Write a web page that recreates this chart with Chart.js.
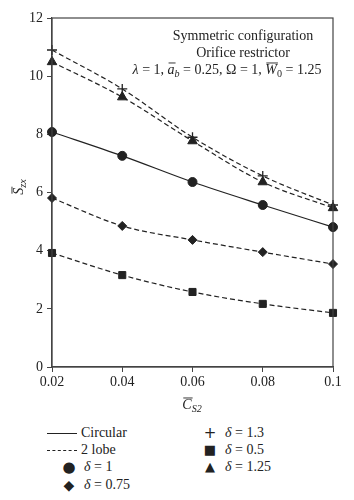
<!DOCTYPE html>
<html>
<head>
<meta charset="utf-8">
<script src="https://cdn.jsdelivr.net/npm/chart.js@4.4.1/dist/chart.umd.min.js"></script>
<style>
  body { margin: 0; background: #fff; }
  #wrap { position: relative; width: 354px; height: 500px; }
  #chart { position: absolute; left: 0; top: 0; }
  .leg { position: absolute; font-family: "Liberation Serif", serif; font-size: 14px; line-height: 16px; height: 16px; color: #222; white-space: nowrap; }
  .leg i { font-style: italic; }
  .ln { display: inline-block; width: 30px; vertical-align: middle; margin-right: 4px; border-top: 1.3px solid #222; }
  .ln.d { border-top: 1.3px dashed #222; }
  .sym { display: inline-block; width: 14px; height: 16px; line-height: 16px; vertical-align: top; text-align: center; margin-right: 8px; font-family: "DejaVu Sans", sans-serif; }
</style>
</head>
<body>
<div id="wrap">
  <canvas id="chart" width="354" height="420"></canvas>
  <div class="leg" style="left:47px; top:425px;"><span class="ln"></span>Circular</div>
  <div class="leg" style="left:47px; top:442px;"><span class="ln d"></span>2 lobe</div>
  <div class="leg" style="left:62px; top:459px;"><span class="sym" style="font-size:15px">●</span><i>δ</i> = 1</div>
  <div class="leg" style="left:62px; top:477px;"><span class="sym" style="font-size:14px">◆</span><i>δ</i> = 0.75</div>
  <div class="leg" style="left:203px; top:425px;"><span class="sym" style="font-size:15px">+</span><i>δ</i> = 1.3</div>
  <div class="leg" style="left:203px; top:442px;"><span class="sym" style="font-size:13px">■</span><i>δ</i> = 0.5</div>
  <div class="leg" style="left:203px; top:459px;"><span class="sym" style="font-size:13px">▲</span><i>δ</i> = 1.25</div>
</div>
<script>
const cs2 = [0.02, 0.04, 0.06, 0.08, 0.1];
const xTicks = [0.02, 0.04, 0.06, 0.08, 0.1];
const yTicks = [0, 2, 4, 6, 8, 10, 12];

const circularD1 = [8.08, 7.26, 6.36, 5.57, 4.81];
const lobeD13 = [10.9, 9.56, 7.9, 6.57, 5.57];
const lobeD125 = [10.49, 9.28, 7.77, 6.36, 5.47];
const lobeD075 = [5.81, 4.85, 4.37, 3.95, 3.54];
const lobeD05 = [3.92, 3.16, 2.58, 2.17, 1.86];

const ink = '#222';
const serif = '"Liberation Serif", "DejaVu Serif", serif';

function pts(ys) {
  return cs2.map((x, i) => ({ x: x, y: ys[i] }));
}

function series(ys, dashed, style, radius) {
  return {
    data: pts(ys),
    borderColor: ink,
    backgroundColor: ink,
    borderWidth: 1.2,
    borderDash: dashed ? [5, 3] : [],
    pointStyle: style,
    pointRadius: radius,
    pointBorderWidth: style === 'cross' ? 1.3 : 1,
    pointBorderColor: ink,
    pointBackgroundColor: ink,
    cubicInterpolationMode: 'monotone',
    fill: false,
    clip: false
  };
}

// draws a string built from runs (italic, subscript, overline)
function drawRich(ctx, runs, cx, cy, size) {
  let total = 0;
  const parts = runs.map(r => {
    const fs = r.sub ? size * 0.72 : size;
    const font = (r.i ? 'italic ' : '') + fs + 'px ' + serif;
    ctx.font = font;
    const w = ctx.measureText(r.t).width;
    total += w;
    return { r, font, w, fs };
  });
  let x = cx - total / 2;
  ctx.textAlign = 'left';
  ctx.textBaseline = 'alphabetic';
  const base = cy + size * 0.35;
  parts.forEach(p => {
    ctx.font = p.font;
    const y = p.r.sub ? base + size * 0.22 : base;
    ctx.fillText(p.r.t, x, y);
    if (p.r.o) {
      ctx.beginPath();
      ctx.lineWidth = 0.9;
      ctx.moveTo(x + 1, base - size * 0.78);
      ctx.lineTo(x + p.w + 1, base - size * 0.78);
      ctx.stroke();
    }
    x += p.w;
  });
}

const decor = {
  id: 'decor',
  afterDraw(chart) {
    const ctx = chart.ctx;
    const a = chart.chartArea;
    ctx.save();
    ctx.strokeStyle = '#444';
    ctx.lineWidth = 1.2;
    ctx.strokeRect(a.left, a.top, a.right - a.left, a.bottom - a.top);

    ctx.fillStyle = ink;
    ctx.strokeStyle = ink;
    drawRich(ctx, [{ t: 'Symmetric configuration' }], 243, 35, 14);
    drawRich(ctx, [{ t: 'Orifice restrictor' }], 243, 52, 14);
    drawRich(ctx, [
      { t: 'λ', i: 1 }, { t: ' = 1, ' },
      { t: 'a', i: 1, o: 1 }, { t: 'b', i: 1, sub: 1 },
      { t: ' = 0.25, Ω = 1, ' },
      { t: 'W', i: 1, o: 1 }, { t: '0', sub: 1 },
      { t: ' = 1.25' }
    ], 227, 69, 14);

    drawRich(ctx, [{ t: 'C', i: 1, o: 1 }, { t: 'S2', i: 1, sub: 1 }], 192, 404, 14);

    ctx.translate(18, 187);
    ctx.rotate(-Math.PI / 2);
    drawRich(ctx, [{ t: 'S', i: 1, o: 1 }, { t: 'zx', i: 1, sub: 1 }], 0, 0, 14);
    ctx.restore();
  }
};

new Chart(document.getElementById('chart'), {
  type: 'line',
  data: {
    datasets: [
      series(circularD1, false, 'circle', 4.5),
      series(lobeD13, true, 'cross', 5),
      series(lobeD125, true, 'triangle', 5.5),
      series(lobeD075, true, 'rectRot', 4.5),
      series(lobeD05, true, 'rect', 5)
    ]
  },
  options: {
    responsive: false,
    animation: false,
    layout: { padding: { top: 18, right: 21, left: 0, bottom: 0 } },
    plugins: { legend: { display: false }, tooltip: { enabled: false } },
    scales: {
      x: {
        type: 'linear',
        min: 0.02,
        max: 0.1,
        afterBuildTicks: s => { s.ticks = xTicks.map(v => ({ value: v })); },
        afterFit: s => { s.height = 53; },
        ticks: {
          color: ink,
          padding: 2,
          maxRotation: 0,
          font: { family: serif, size: 14 },
          callback: v => String(+v.toFixed(2))
        },
        grid: { display: true, drawOnChartArea: false, tickLength: 5, color: '#444' },
        border: { display: true, color: '#444', width: 1.2 }
      },
      y: {
        min: 0,
        max: 12,
        afterBuildTicks: s => { s.ticks = yTicks.map(v => ({ value: v })); },
        afterFit: s => { s.width = 52; },
        ticks: {
          color: ink,
          padding: 4,
          font: { family: serif, size: 14 }
        },
        grid: { display: true, drawOnChartArea: false, tickLength: 5, color: '#444' },
        border: { display: true, color: '#444', width: 1.2 }
      }
    }
  },
  plugins: [decor]
});
</script>
</body>
</html>
